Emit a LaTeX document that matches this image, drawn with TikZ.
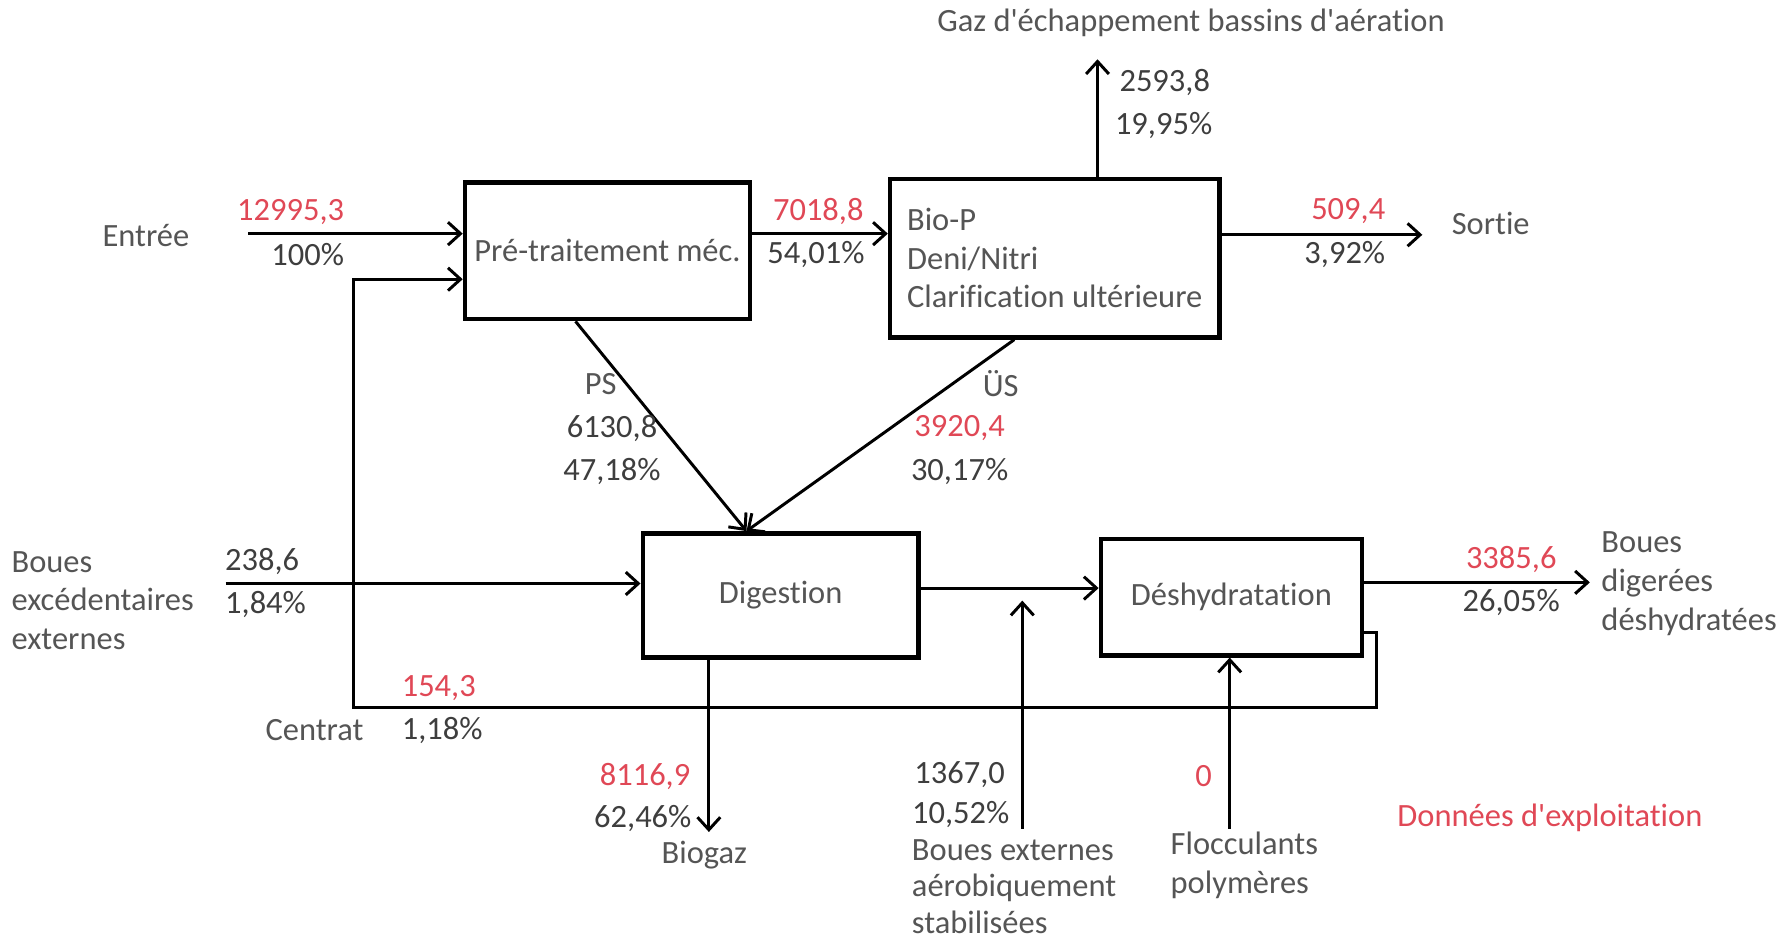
\documentclass[tikz,border=0pt]{standalone}
\usepackage{fontspec}
\setmainfont{Carlito}[Ligatures=NoCommon]
\usetikzlibrary{arrows.meta}
\definecolor{labgray}{RGB}{85,85,85}
\definecolor{numgray}{RGB}{62,62,62}
\definecolor{redval}{RGB}{224,72,86}
\newcommand\qs{\XeTeXglyph\XeTeXcharglyph"0027\relax}

\begin{document}
\begin{tikzpicture}
[every node/.style={inner sep=0pt, text=labgray, font=\fontsize{28.5}{34}\selectfont},
 box/.style={rectangle, draw=black, line width=4pt, fill=white},
 num/.style={text=numgray},
 val/.style={text=redval},
 flow/.style={line width=2.6pt, -{Straight Barb[length=11pt,width=20pt]}, color=black}]
\useasboundingbox (0pt,0pt) rectangle (1568pt,-825pt);
% process boxes
\node (1) [box, minimum width=250pt, minimum height=120pt] at (533pt, -220pt) {Pré-traitement méc.};
\node (2) [box, minimum width=289pt, minimum height=139pt, align=left] at (925.5pt, -226.5pt) {Bio-P\\Deni/Nitri\\Clarification ultérieure};
\node (3) [box, minimum width=242pt, minimum height=109pt] at (685pt, -522.5pt) {Digestion};
\node (4) [box, minimum width=229pt, minimum height=102pt] at (1080.5pt, -524pt) {Déshydratation};
% free ends
\coordinate (e1) at (218pt, -205pt);
\coordinate (gz) at (963pt, -52pt);
\coordinate (so) at (1248pt, -206pt);
\coordinate (be) at (198pt, -512pt);
\coordinate (bd) at (1395pt, -511pt);
\coordinate (bg) at (622pt, -730pt);
\coordinate (ae) at (897pt, -727pt);
\coordinate (ae2) at (897pt, -527pt);
\coordinate (fl) at (1079pt, -727pt);
\coordinate (r0) at (1208pt, -555pt);
\coordinate (r1) at (1208pt, -621pt);
\coordinate (r2) at (310pt, -245pt);
% flows
\draw [flow] (e1) to (e1 -| 1.west);
\draw [flow] (e1 -| 1.east) to (e1 -| 2.west);
\draw [flow] ([xshift=37.5pt]2.north) to (gz);
\draw [flow] (so -| 2.east) to (so);
\draw [flow] ([xshift=-28pt]1.south) to ([xshift=-30pt]3.north);
\draw [flow] ([xshift=-35.5pt]2.south) to ([xshift=-30pt]3.north);
\draw [flow] (be) to (be -| 3.west);
\draw [flow] ([yshift=6.5pt]3.east) to ([yshift=6.5pt]3.east -| 4.west);
\draw [flow] (bd -| 4.east) to (bd);
\draw [flow] (bg |- 3.south) to (bg);
\draw [flow] (ae) to (ae2);
\draw [flow] (fl) to (fl |- 4.south);
\draw [flow] (r0 -| 4.east) -- (r0) -- (r1) -| (r2) -- (r2 -| 1.west);
% labels
\node (ent) at (128pt, -207pt) {Entrée};
\node (v1) [val] at (255pt, -186pt) {12995,3};
\node (p1) [num] at (270pt, -223pt) {100\%};
\node (v2) [val] at (718pt, -186pt) {7018,8};
\node (p2) [num] at (716pt, -223pt) {54,01\%};
\node (gaz) at (1045pt, -20pt) {Gaz d\qs échappement bassins d\qs aération};
\node (v3) [num] at (1022pt, -72pt) {2593,8};
\node (p3) [num] at (1021pt, -110pt) {19,95\%};
\node (v4) [val] at (1183pt, -185pt) {509,4};
\node (p4) [num] at (1180pt, -223pt) {3,92\%};
\node (sor) at (1308pt, -196pt) {Sortie};
\node (ps) at (527pt, -337pt) {PS};
\node (v5) [num] at (537pt, -376pt) {6130,8};
\node (p5) [num] at (537pt, -414pt) {47,18\%};
\node (us) at (878pt, -337pt) {ÜS};
\node (v6) [val] at (842pt, -376pt) {3920,4};
\node (p6) [num] at (842pt, -414pt) {30,17\%};
\node (bex) [anchor=west, align=left] at (10pt, -527pt) {Boues\\excédentaires\\externes};
\node (v7) [num] at (230pt, -493pt) {238,6};
\node (p7) [num] at (233pt, -530pt) {1,84\%};
\node (v8) [val] at (385pt, -604pt) {154,3};
\node (cen) at (276pt, -641pt) {Centrat};
\node (p8) [num] at (388pt, -641pt) {1,18\%};
\node (v9) [val] at (566pt, -681pt) {8116,9};
\node (p9) [num] at (564pt, -718pt) {62,46\%};
\node (bio) at (618pt, -750pt) {Biogaz};
\node (v10) [num] at (842pt, -680pt) {1367,0};
\node (p10) [num] at (843pt, -715pt) {10,52\%};
\node (bae) [anchor=west, align=left, font=\fontsize{28.5}{32}\selectfont] at (800pt, -778pt) {Boues externes\\aérobiquement\\stabilisées};
\node (v11) [val] at (1056pt, -681pt) {0};
\node (flo) [anchor=west, align=left] at (1027pt, -759pt) {Flocculants\\polymères};
\node (v12) [val] at (1326pt, -491pt) {3385,6};
\node (p12) [num] at (1326pt, -529pt) {26,05\%};
\node (bdd) [anchor=west, align=left] at (1405pt, -512pt) {Boues\\digerées\\déshydratées};
\node (don) [val] at (1360pt, -718pt) {Données d\qs exploitation};
\end{tikzpicture}
\end{document}
